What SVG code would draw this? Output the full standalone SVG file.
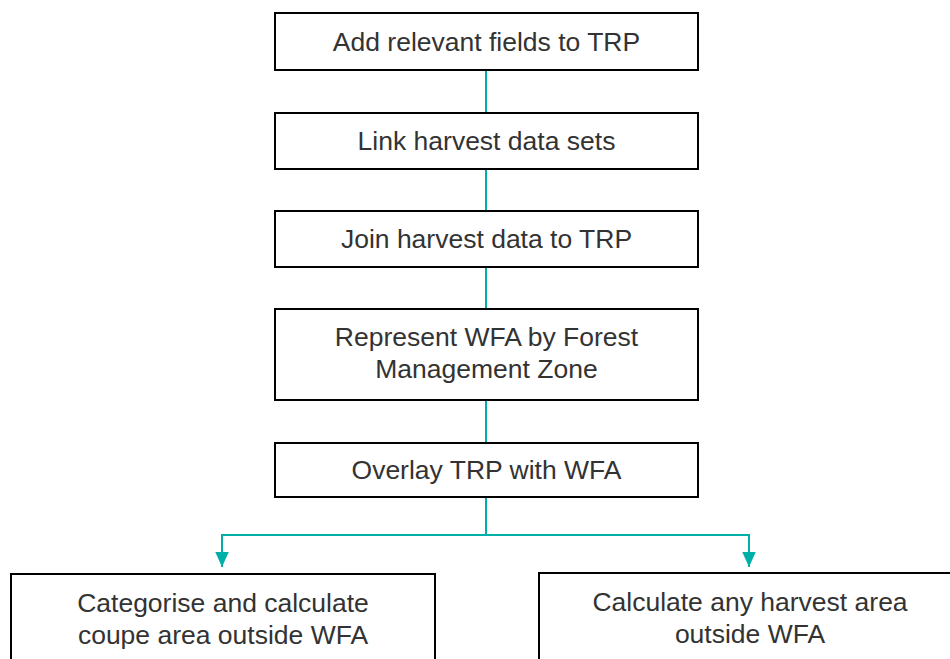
<svg xmlns="http://www.w3.org/2000/svg" width="950" height="659" viewBox="0 0 950 659">
<defs>
<style>
.box{fill:#fff;stroke:#000;stroke-width:2}
.t{font-family:"Liberation Sans",Arial,sans-serif;font-size:26.5px;fill:#333;text-anchor:middle}
.c{fill:none;stroke:#00B0A8;stroke-width:2}
</style>
<marker id="ah" viewBox="0 0 10 10" refX="10" refY="5" markerWidth="15" markerHeight="15" markerUnits="userSpaceOnUse" orient="auto">
<path d="M0,0.5 L10,5 L0,9.5 z" fill="#00B0A8"/>
</marker>
</defs>
<rect width="950" height="659" fill="#fff"/>
<g id="connectors">
<line class="c" x1="486" y1="70" x2="486" y2="113"/>
<line class="c" x1="486" y1="169" x2="486" y2="211"/>
<line class="c" x1="486" y1="267" x2="486" y2="309"/>
<line class="c" x1="486" y1="400" x2="486" y2="443"/>
<polyline class="c" points="486,497 486,535 222,535 222,567" marker-end="url(#ah)"/>
<polyline class="c" points="486,535 749,535 749,567" marker-end="url(#ah)"/>
</g>
<g id="n1"><rect class="box" x="275" y="13" width="423" height="57"/><text class="t" x="486.5" y="51">Add relevant fields to TRP</text></g>
<g id="n2"><rect class="box" x="275" y="113" width="423" height="56"/><text class="t" x="486.5" y="150">Link harvest data sets</text></g>
<g id="n3"><rect class="box" x="275" y="211" width="423" height="56"/><text class="t" x="486.5" y="248">Join harvest data to TRP</text></g>
<g id="n4"><rect class="box" x="275" y="309" width="423" height="91"/><text class="t" x="486.5" y="346">Represent WFA by Forest</text><text class="t" x="486.5" y="378">Management Zone</text></g>
<g id="n5"><rect class="box" x="275" y="443" width="423" height="54"/><text class="t" x="486.5" y="479">Overlay TRP with WFA</text></g>
<g id="n6"><rect class="box" x="11" y="574" width="424" height="95"/><text class="t" x="223" y="612">Categorise and calculate</text><text class="t" x="223" y="644">coupe area outside WFA</text></g>
<g id="n7"><rect class="box" x="539" y="573" width="420" height="96"/><text class="t" x="750" y="611">Calculate any harvest area</text><text class="t" x="750" y="643">outside WFA</text></g>
</svg>
